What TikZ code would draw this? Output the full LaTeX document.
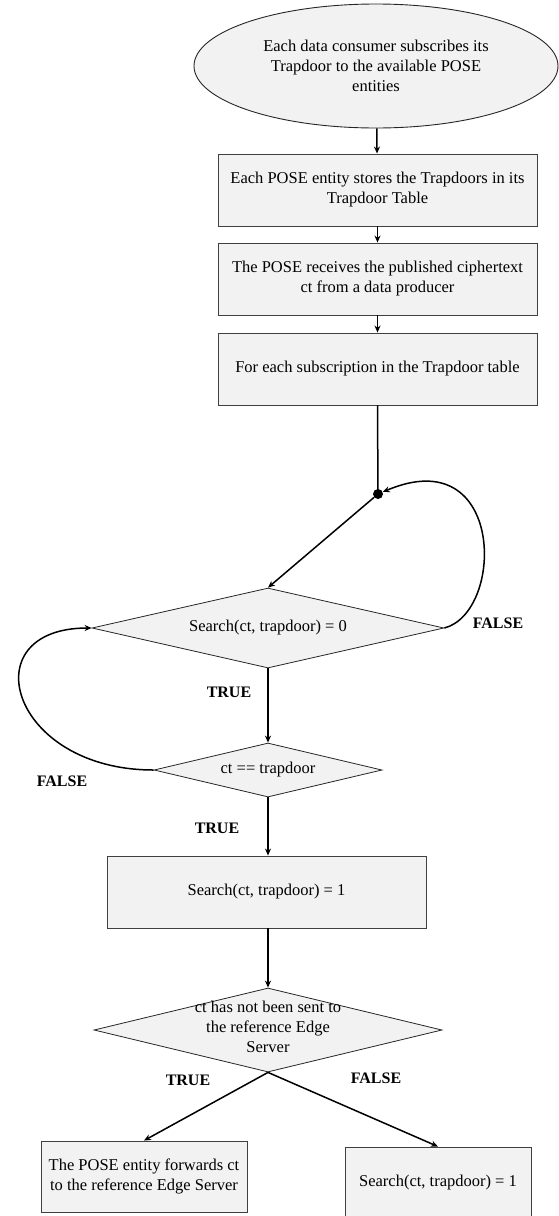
\documentclass[tikz,border=0pt]{standalone}
\usepackage{fontspec}
\setmainfont{Liberation Serif}
\usetikzlibrary{shapes.geometric,arrows.meta}
\begin{document}
\begin{tikzpicture}[x=1pt,y=-1pt,
  txt/.style={font=\fontsize{16.5}{20}\selectfont, align=center, inner sep=0pt},
  proc/.style={txt, draw=black!75, line width=0.9pt, fill=black!5, minimum width=319pt, minimum height=72pt},
  startnode/.style={txt, ellipse, draw=black!85, line width=0.9pt, fill=black!5, minimum width=364pt, minimum height=124pt},
  decision/.style={diamond, draw=black!85, line width=0.8pt, fill=black!5, inner sep=0pt},
  lbl/.style={font=\fontsize{16}{19}\selectfont\bfseries, inner sep=0pt},
  arr/.style={-{Stealth[length=7pt,width=6pt]}, line width=1.5pt, black},
  plain/.style={line width=1.5pt, black},
  dotnode/.style={circle, fill=black, inner sep=0pt, minimum size=10pt}
]
\useasboundingbox (0,0) rectangle (559,1216);

\node[startnode] (e0) at (376,66) {Each data consumer subscribes its\\Trapdoor to the available POSE\\entities};
\node[proc] (b1) at (377.5,190) {Each POSE entity stores the Trapdoors in its\\Trapdoor Table};
\node[proc] (b2) at (377.5,279) {The POSE receives the published ciphertext\\ct from a data producer};
\node[proc] (b3) at (377.5,369) {For each subscription in the Trapdoor table};
\node[dotnode] (dot) at (378,494) {};

\node[decision, minimum width=352pt, minimum height=80pt] (d1) at (268,628) {};
\node[txt] (d1t) at (d1.center) {Search(ct, trapdoor) = 0};
\node[decision, minimum width=228pt, minimum height=54pt] (d2) at (268,770) {};
\node[txt] (d2t) at (d2.center) {ct == trapdoor};
\node[proc] (b4) at (266.5,892) {Search(ct, trapdoor) = 1};
\node[decision, minimum width=348pt, minimum height=84pt] (d3) at (268,1030) {};
\node[txt] (d3t) at (268,1027) {ct has not been sent to\\the reference Edge\\Server};
\node[proc, minimum width=206pt, minimum height=71pt] (b5) at (144,1176.5) {The POSE entity forwards ct\\to the reference Edge Server};
\node[proc, minimum width=186pt, minimum height=71pt] (b6) at (438,1182.5) {Search(ct, trapdoor) = 1};

\node[lbl] (lf1) at (498,623) {FALSE};
\node[lbl] (lt1) at (229,692) {TRUE};
\node[lbl] (lf2) at (62,781) {FALSE};
\node[lbl] (lt2) at (217,828) {TRUE};
\node[lbl] (lt3) at (188,1080) {TRUE};
\node[lbl] (lf3) at (376,1078) {FALSE};

\draw[arr] (e0) -- (b1);
\draw[arr] (b1) -- (b2);
\draw[arr] (b2) -- (b3);
\draw[plain] (b3.south) -- (dot.center);
\draw[arr] (dot) -- (d1.north);
\draw[arr] (d1.east) .. controls (505,612) and (505,440) .. (dot);
\draw[arr] (d1.south) -- (d2.north);
\draw[arr] (d2.west) .. controls (10,770) and (-30,628) .. (d1.west);
\draw[arr] (d2.south) -- (d2.south |- b4.north);
\draw[arr] (b4.south -| d3.north) -- (d3.north);
\draw[arr] (d3.south) -- (b5.north);
\draw[arr] (d3.south) -- (b6.north);
\end{tikzpicture}
\end{document}
